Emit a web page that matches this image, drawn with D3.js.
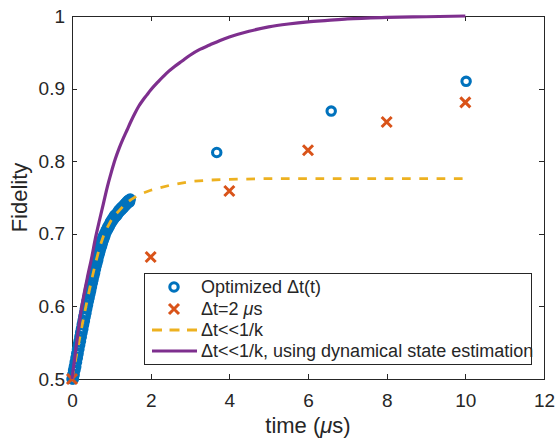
<!DOCTYPE html>
<html><head><meta charset="utf-8">
<script src="https://cdn.jsdelivr.net/npm/d3@7"></script>
<style>
body{margin:0;background:#fff}
svg{display:block}
text{font-family:"Liberation Sans",Arial,Helvetica,sans-serif;fill:#262626}
</style>
</head><body>
<svg id="chart" width="558" height="439"></svg>
<script>
// ---------- data ----------
const xTicks = [0, 2, 4, 6, 8, 10, 12];
const yTicks = [0.5, 0.6, 0.7, 0.8, 0.9, 1];
const yTickLabels = ["0.5", "0.6", "0.7", "0.8", "0.9", "1"];

// Optimized Δt(t)
const optT = [
  0,0.02,0.04,0.06,0.08,0.10,0.12,0.14,0.16,0.18,0.20,0.22,0.24,0.26,0.28,0.30,0.32,0.34,0.36,0.38,0.40,0.42,0.44,0.46,0.48,0.50,0.52,0.54,0.56,0.58,0.60,0.62,0.64,0.66,0.68,0.70,0.72,0.74,0.76,0.78,0.80,
  0.835,0.87,0.905,0.94,0.975,1.01,1.045,1.08,1.115,1.15,1.185,1.22,1.255,1.29,1.325,1.36,1.395,1.43,1.465,1.48,
  0.035,0.055,0.075,0.095,0.115,0.135,0.155,0.175,0.195,0.215,0.235,0.255,0.275,0.295,0.315,0.335,0.355,0.375,0.395,0.415,0.435,0.455,0.475,0.495,0.515,0.535,0.555,0.575,0.595,0.615,0.635,0.655,0.675,0.695,0.715,0.735,0.755,0.775,0.795,0.815,0.835,
  0.87,0.905,0.94,0.975,1.01,1.045,1.08,1.115,1.15,1.185,1.22,1.255,1.29,1.325,1.36,1.395,1.43,1.465,
  3.68,6.59,10.02];
const optF = [
  0.500,0.506,0.512,0.517,0.523,0.529,0.535,0.541,0.547,0.552,0.558,0.564,0.569,0.575,0.580,0.586,0.591,0.597,0.602,0.607,0.612,0.617,0.622,0.627,0.632,0.637,0.642,0.646,0.651,0.656,0.660,0.664,0.669,0.673,0.677,0.681,0.684,0.688,0.691,0.694,0.697,
  0.701,0.705,0.709,0.712,0.716,0.719,0.722,0.725,0.727,0.729,0.732,0.734,0.736,0.738,0.740,0.742,0.744,0.746,0.747,0.748,
  0.500,0.506,0.512,0.517,0.523,0.529,0.535,0.541,0.547,0.552,0.558,0.564,0.569,0.575,0.580,0.586,0.591,0.597,0.602,0.607,0.612,0.617,0.622,0.627,0.632,0.637,0.642,0.646,0.651,0.656,0.660,0.664,0.669,0.673,0.677,0.681,0.684,0.688,0.691,0.694,0.697,
  0.702,0.706,0.709,0.713,0.716,0.719,0.722,0.724,0.726,0.729,0.731,0.733,0.735,0.737,0.739,0.741,0.743,0.744,
  0.812,0.869,0.910];

// Δt = 2 μs
const fixedT = [0, 2, 4, 6, 8, 10];
const fixedF = [0.500, 0.668, 0.759, 0.815, 0.854, 0.881];

// Δt << 1/k
const fastT = [0,0.1,0.2,0.3,0.4,0.5,0.6,0.7,0.8,0.9,1.0,1.1,1.2,1.3,1.4,1.5,1.7,2.0,2.5,3.0,3.5,4,5,6,7,8,9,10];
const fastF = [0.500,0.529,0.558,0.586,0.612,0.637,0.660,0.681,0.697,0.709,0.719,0.726,0.732,0.738,0.743,0.747,0.754,0.760,0.767,0.772,0.774,0.775,0.776,0.776,0.776,0.776,0.776,0.776];

// Δt << 1/k, using dynamical state estimation
const dseT = [0,0.1,0.2,0.3,0.4,0.5,0.6,0.7,0.8,0.9,1.0,1.1,1.2,1.3,1.4,1.5,1.6,1.7,1.8,1.9,2.0,2.2,2.4,2.6,2.8,3.0,3.25,3.5,3.75,4.0,4.5,5.0,5.5,6.0,6.5,7.0,8.0,9.0,10.0];
const dseF = [0.500,0.542,0.583,0.615,0.642,0.667,0.695,0.719,0.742,0.765,0.785,0.803,0.818,0.831,0.843,0.855,0.866,0.876,0.884,0.891,0.898,0.910,0.921,0.930,0.938,0.946,0.954,0.960,0.966,0.971,0.979,0.985,0.989,0.992,0.994,0.996,0.998,0.999,1.000];

const legendLabels = [
  [["Optimized \u0394t(t)", false]],
  [["\u0394t=2 ", false], ["\u03bc", true], ["s", false]],
  [["\u0394t<<1/k", false]],
  [["\u0394t<<1/k, using dynamical state estimation", false]]
];
const xLabelParts = [["time (", false], ["\u03bc", true], ["s)", false]];
const yLabel = "Fidelity";

// ---------- styles ----------
const C_BLUE = "#0072BD", C_ORANGE = "#D95319", C_YELLOW = "#EDB120", C_PURPLE = "#7E2F8E";
const AX = "#262626";

const svg = d3.select("#chart");
const m = {l: 72, r: 544, t: 16, b: 379};
const x = d3.scaleLinear().domain([0, 12]).range([m.l, m.r]);
const y = d3.scaleLinear().domain([0.5, 1]).range([m.b, m.t]);

// axes
const gx = svg.append("g").attr("transform", `translate(0,${m.b})`)
  .call(d3.axisBottom(x).tickValues(xTicks).tickFormat(d3.format("d")).tickSizeInner(-5).tickSizeOuter(0).tickPadding(15));
const gxt = svg.append("g").attr("transform", `translate(0,${m.t})`)
  .call(d3.axisTop(x).tickValues(xTicks).tickFormat("").tickSizeInner(-5).tickSizeOuter(0));
const gy = svg.append("g").attr("transform", `translate(${m.l},0)`)
  .call(d3.axisLeft(y).tickValues(yTicks).tickFormat((d, i) => yTickLabels[i]).tickSizeInner(-5).tickSizeOuter(0).tickPadding(7));
const gyr = svg.append("g").attr("transform", `translate(${m.r},0)`)
  .call(d3.axisRight(y).tickValues(yTicks).tickFormat("").tickSizeInner(-5).tickSizeOuter(0));
[gx, gxt, gy, gyr].forEach(g => {
  g.selectAll("path,line").attr("stroke", AX).attr("stroke-width", 1).attr("shape-rendering", "crispEdges");
  g.selectAll("text").attr("font-size", 19).attr("fill", AX)
    .style("font-family", '"Liberation Sans",Arial,sans-serif');
});

// axis labels
const xl = svg.append("text").attr("x", (m.l + m.r) / 2).attr("y", 433)
  .attr("text-anchor", "middle").attr("font-size", 22);
xLabelParts.forEach(p => xl.append("tspan").text(p[0]).attr("font-style", p[1] ? "italic" : null));
svg.append("text").attr("transform", `translate(27,${(m.t + m.b) / 2}) rotate(-90)`)
  .attr("text-anchor", "middle").attr("font-size", 22).text(yLabel);

// series: optimized circles
const optData = optT.map((t, i) => ({t, f: optF[i]}));
svg.append("g").selectAll("circle").data(optData).join("circle")
  .attr("cx", d => x(d.t)).attr("cy", d => y(d.f)).attr("r", 4.2)
  .attr("fill", "none").attr("stroke", C_BLUE).attr("stroke-width", 3.1);

// crosses
const xs = 5;
const fixedData = fixedT.map((t, i) => ({t, f: fixedF[i]}));
svg.append("g").selectAll("path").data(fixedData).join("path")
  .attr("d", d => { const cx = x(d.t), cy = y(d.f);
    return `M${cx - xs},${cy - xs}L${cx + xs},${cy + xs}M${cx - xs},${cy + xs}L${cx + xs},${cy - xs}`; })
  .attr("stroke", C_ORANGE).attr("stroke-width", 3).attr("fill", "none");

// dashed line
const line = d3.line().x(d => x(d.t)).y(d => y(d.f));
svg.append("path").datum(fastT.map((t, i) => ({t, f: fastF[i]})))
  .attr("d", line).attr("fill", "none").attr("stroke", C_YELLOW)
  .attr("stroke-width", 2.8).attr("stroke-dasharray", "8.7,8.6");

// purple line
svg.append("path").datum(dseT.map((t, i) => ({t, f: dseF[i]})))
  .attr("d", d3.line().curve(d3.curveMonotoneX).x(d => x(d.t)).y(d => y(d.f)))
  .attr("fill", "none").attr("stroke", C_PURPLE).attr("stroke-width", 3.2);

// legend
const lg = svg.append("g");
const L = {x0: 144, y0: 273, x1: 531, y1: 364};
lg.append("rect").attr("x", L.x0 + 0.5).attr("y", L.y0 + 0.5).attr("width", L.x1 - L.x0).attr("height", L.y1 - L.y0)
  .attr("fill", "#fff").attr("stroke", AX).attr("stroke-width", 1);
const rowY = [287, 309, 330, 351];
const sx0 = 152, sx1 = 197, sxm = 174, tx = 201;
legendLabels.forEach((parts, i) => {
  const yy = rowY[i];
  if (i === 0) lg.append("circle").attr("cx", sxm).attr("cy", yy).attr("r", 4.2).attr("fill", "none").attr("stroke", C_BLUE).attr("stroke-width", 3.1);
  if (i === 1) lg.append("path").attr("d", `M${sxm - xs},${yy - xs}L${sxm + xs},${yy + xs}M${sxm - xs},${yy + xs}L${sxm + xs},${yy - xs}`).attr("stroke", C_ORANGE).attr("stroke-width", 3);
  if (i === 2) lg.append("line").attr("x1", sx0).attr("x2", sx1).attr("y1", yy).attr("y2", yy).attr("stroke", C_YELLOW).attr("stroke-width", 2.8).attr("stroke-dasharray", "10,7.5");
  if (i === 3) lg.append("line").attr("x1", sx0).attr("x2", sx1).attr("y1", yy).attr("y2", yy).attr("stroke", C_PURPLE).attr("stroke-width", 3.2);
  const t = lg.append("text").attr("x", tx).attr("y", yy + 6.3).attr("font-size", 18);
  parts.forEach(p => t.append("tspan").text(p[0]).attr("font-style", p[1] ? "italic" : null));
});
</script>
</body></html>
